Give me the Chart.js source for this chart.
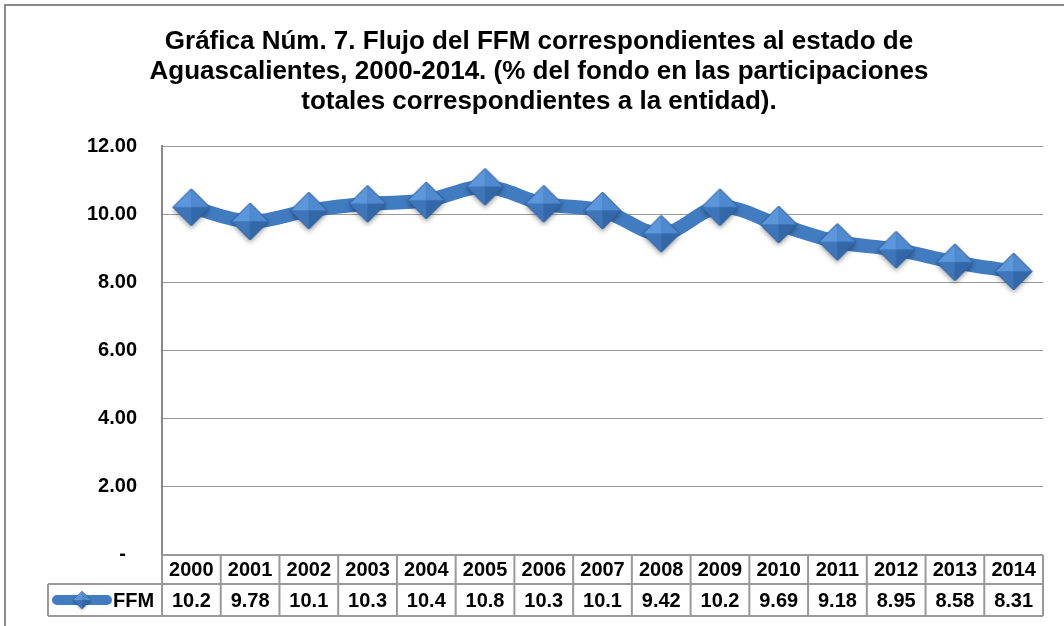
<!DOCTYPE html>
<html><head><meta charset="utf-8">
<script src="https://cdn.jsdelivr.net/npm/chart.js@4/dist/chart.umd.min.js"></script>
<style>html,body{margin:0;padding:0;background:#fff}#wrap{width:1064px;height:626px;position:relative}</style>
</head><body><div id="wrap"><canvas id="c" width="1064" height="626"></canvas></div>
<script>
const categories = ['2000','2001','2002','2003','2004','2005','2006','2007','2008','2009','2010','2011','2012','2013','2014'];
const ffmValues = [10.2, 9.78, 10.1, 10.3, 10.4, 10.8, 10.3, 10.1, 9.42, 10.2, 9.69, 9.18, 8.95, 8.58, 8.31];
const tableLabels = ['10.2','9.78','10.1','10.3','10.4','10.8','10.3','10.1','9.42','10.2','9.69','9.18','8.95','8.58','8.31'];
const seriesName = 'FFM';
const titleLines = ['Gráfica Núm. 7. Flujo del FFM correspondientes al estado de','Aguascalientes, 2000-2014. (% del fondo en las participaciones','totales correspondientes a la entidad).'];

const FONT = '"Liberation Sans", Arial, sans-serif';
const LINE_COLOR = '#417cc1';

function makeDiamond(size){
  const pad = 8;
  const c = document.createElement('canvas');
  c.width = size + pad*2; c.height = size + pad*2;
  const g = c.getContext('2d');
  const cx = c.width/2, cy = c.height/2, r = size/2;
  g.save();
  g.shadowColor = 'rgba(0,0,0,0.35)'; g.shadowBlur = 5; g.shadowOffsetY = 3;
  g.beginPath(); g.moveTo(cx, cy-r); g.lineTo(cx+r, cy); g.lineTo(cx, cy+r); g.lineTo(cx-r, cy); g.closePath();
  g.fillStyle = '#3d72b5'; g.fill();
  g.restore();
  const face = (pts, col) => { g.beginPath(); g.moveTo(pts[0][0],pts[0][1]); for (let i=1;i<pts.length;i++) g.lineTo(pts[i][0],pts[i][1]); g.closePath(); g.fillStyle = col; g.fill(); };
  face([[cx,cy-r],[cx-r,cy],[cx,cy]], '#5d97db');
  face([[cx,cy-r],[cx+r,cy],[cx,cy]], '#4f89cf');
  face([[cx-r,cy],[cx,cy+r],[cx,cy]], '#3f76ba');
  face([[cx+r,cy],[cx,cy+r],[cx,cy]], '#3267a8');
  g.beginPath(); g.moveTo(cx, cy-r); g.lineTo(cx+r, cy); g.lineTo(cx, cy+r); g.lineTo(cx-r, cy); g.closePath();
  g.strokeStyle = '#2a5a96'; g.lineWidth = 1; g.stroke();
  return c;
}
const diamond = makeDiamond(37);

const framePlugin = {
  id: 'frame',
  beforeDraw(chart){
    const ctx = chart.ctx;
    ctx.save();
    ctx.fillStyle = '#fff'; ctx.fillRect(0,0,chart.width,chart.height);
    ctx.strokeStyle = '#8a8a8a'; ctx.lineWidth = 2;
    ctx.strokeRect(5, 5, 1200, 800);
    ctx.fillStyle = '#000';
    ctx.font = 'bold 26px ' + FONT;
    ctx.textAlign = 'center'; ctx.textBaseline = 'middle';
    const ys = [42, 72, 102];
    titleLines.forEach((t, i) => ctx.fillText(t, 539, ys[i]));
    ctx.restore();
  }
};

const tablePlugin = {
  id: 'dataTable',
  afterDraw(chart){
    const ctx = chart.ctx, x = chart.scales.x, a = chart.chartArea;
    const n = categories.length;
    const step = (a.right - a.left) / n;
    const r1 = a.bottom + 1, r2 = r1 + 29, r3 = r2 + 32;
    const legLeft = 48;
    ctx.save();
    ctx.strokeStyle = '#999'; ctx.lineWidth = 2;
    ctx.beginPath();
    ctx.moveTo(a.left, r1); ctx.lineTo(a.right, r1);
    ctx.moveTo(legLeft, r2); ctx.lineTo(a.right, r2);
    ctx.moveTo(legLeft, r3); ctx.lineTo(a.right, r3);
    ctx.moveTo(legLeft, r2); ctx.lineTo(legLeft, r3);
    for (let i=0;i<=n;i++){ const xx = a.left + i*step; ctx.moveTo(xx, r1); ctx.lineTo(xx, r3); }
    ctx.stroke();
    ctx.fillStyle = '#000';
    ctx.font = 'bold 20px ' + FONT;
    ctx.textAlign = 'center'; ctx.textBaseline = 'middle';
    for (let i=0;i<n;i++){
      const cx = x.getPixelForValue(i);
      ctx.fillText(categories[i], cx, (r1+r2)/2 + 1);
      ctx.fillText(tableLabels[i], cx, (r2+r3)/2 + 1);
    }
    const ly = (r2+r3)/2;
    ctx.strokeStyle = LINE_COLOR; ctx.lineWidth = 10; ctx.lineCap = 'round';
    ctx.beginPath(); ctx.moveTo(57, ly); ctx.lineTo(107, ly); ctx.stroke();
    ctx.drawImage(diamond, 0, 0, diamond.width, diamond.height, 82-diamond.width*0.24, ly-diamond.height*0.24, diamond.width*0.48, diamond.height*0.48);
    ctx.textAlign = 'left';
    ctx.fillText(seriesName, 113, ly + 1);
    ctx.restore();
  }
};

new Chart(document.getElementById('c'), {
  type: 'line',
  data: {
    labels: categories,
    datasets: [{
      label: seriesName,
      data: ffmValues,
      borderColor: LINE_COLOR,
      borderWidth: 14,
      tension: 0.35,
      pointStyle: diamond,
      pointRadius: 18,
      pointHoverRadius: 18,
      fill: false
    }]
  },
  options: {
    responsive: false,
    animation: false,
    devicePixelRatio: 1,
    layout: { autoPadding: false, padding: { left: 0, right: 21, top: 146, bottom: 72 } },
    plugins: {
      legend: { display: false },
      tooltip: { enabled: false },
      title: { display: false }
    },
    scales: {
      x: {
        offset: true,
        grid: { display: false, drawTicks: false },
        border: { display: false },
        ticks: { display: false }
      },
      y: {
        min: 0, max: 12,
        afterFit(s){ s.width = 162; },
        grid: { color: '#9a9a9a', lineWidth: 1, drawTicks: false },
        border: { color: '#888', width: 2 },
        ticks: {
          stepSize: 2,
          padding: 25,
          color: '#000',
          font: { family: FONT, size: 20, weight: 'bold' },
          callback: v => v === 0 ? '-  ' : v.toFixed(2)
        }
      }
    }
  },
  plugins: [framePlugin, tablePlugin]
});
</script></body></html>
